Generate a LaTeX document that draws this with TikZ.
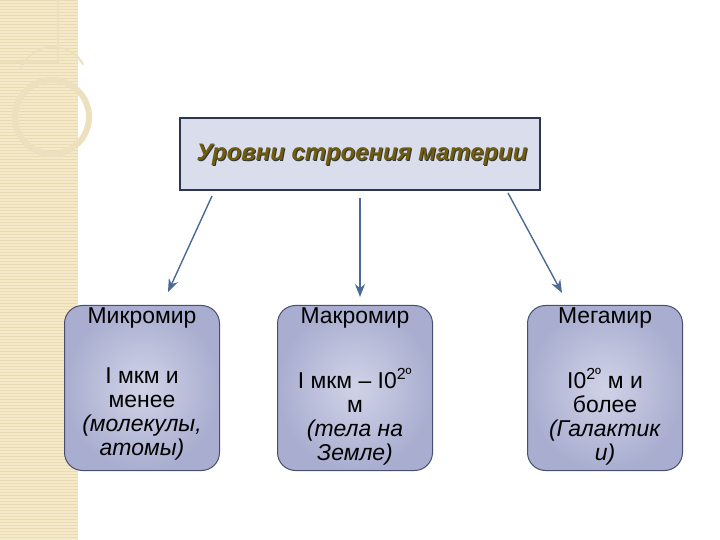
\documentclass[tikz,border=0pt]{standalone}
\usepackage{fontspec}
\setmainfont{Liberation Sans}
\usetikzlibrary{positioning,arrows.meta}

\definecolor{stripbg}{HTML}{F4E9C9}
\definecolor{stripline}{HTML}{EADBB2}
\definecolor{ringcol}{HTML}{ECE0BE}
\definecolor{topfill}{HTML}{DADDEC}
\definecolor{topline}{HTML}{2E3550}
\definecolor{titlecol}{HTML}{6E5C10}
\definecolor{arrowcol}{HTML}{4C6A98}
\definecolor{boxin}{HTML}{D0D3E7}
\definecolor{boxout}{HTML}{A9AED0}
\definecolor{boxline}{HTML}{474E70}

\tikzset{
  levelbox/.style={draw=topline, line width=1.6bp, fill=topfill,
    minimum width=360bp, minimum height=72bp, inner sep=0pt},
  worldbox/.style={draw=boxline, line width=1bp, rounded corners=18bp,
    inner color=boxin, outer color=boxout,
    minimum width=155bp, minimum height=165bp, inner sep=0pt},
  worldtitle/.style={font=\fontsize{23}{24}\selectfont, inner sep=0pt},
  worldbody/.style={font=\fontsize{23}{24}\selectfont, align=center, inner sep=0pt},
  arr/.style={-{Stealth[length=13bp,width=10bp]}, draw=arrowcol, fill=arrowcol, line width=1.4bp}
}

\begin{document}
\begin{tikzpicture}[x=1bp, y=-1bp]
\useasboundingbox (0,0) rectangle (720,540);

% left strip
\fill[stripbg] (0,0) rectangle (78,540);
\foreach \yy in {0,3,...,540}
  \draw[stripline, line width=0.5bp] (0,\yy) -- (78,\yy);
\draw[ringcol, line width=6bp] (52,117) circle (37);
\draw[ringcol, line width=2bp] (0,62) -- (58,62) -- (58,0);
\draw[ringcol, line width=2bp] (20,70) arc (200:330:35);

% top box
\node[levelbox] (top) at (360,154) {};
\node[font=\fontsize{24}{26}\selectfont\bfseries\itshape, text=black!80, inner sep=0pt]
  at (363,156.2) {Уровни строения материи};
\node[font=\fontsize{24}{26}\selectfont\bfseries\itshape, text=titlecol, inner sep=0pt]
  (top-t) at (362,155.2) {Уровни строения материи};

% the three worlds
\foreach \nm/\cx/\tl/\bd in {
    micro/142/Микромир/{I мкм и\\менее\\\textit{(молекулы,}\\\textit{атомы)}},
    macro/355/Макромир/{I мкм – I0\textsuperscript{2º}\\м\\\textit{(тела на}\\\textit{Земле)}},
    mega/605/Мегамир/{I0\textsuperscript{2º} м и\\более\\\textit{(Галактик}\\\textit{и)}}}
{
  \node[worldbox] (\nm) at (\cx,388) {};
  \node[worldtitle] (\nm-t) at (\cx,318) {\tl};
  \node[worldbody, anchor=north] (\nm-b) at (\cx,368) {\bd};
}

% arrows
\coordinate (s1) at (212,196);
\coordinate (s2) at (360,198);
\coordinate (s3) at (508,193);
\coordinate (e1) at (168,292);
\coordinate (e2) at (360,297);
\coordinate (e3) at (562,293);
\draw[arr] (s1) -- (e1);
\draw[arr] (s2) -- (e2);
\draw[arr] (s3) -- (e3);
\end{tikzpicture}
\end{document}
